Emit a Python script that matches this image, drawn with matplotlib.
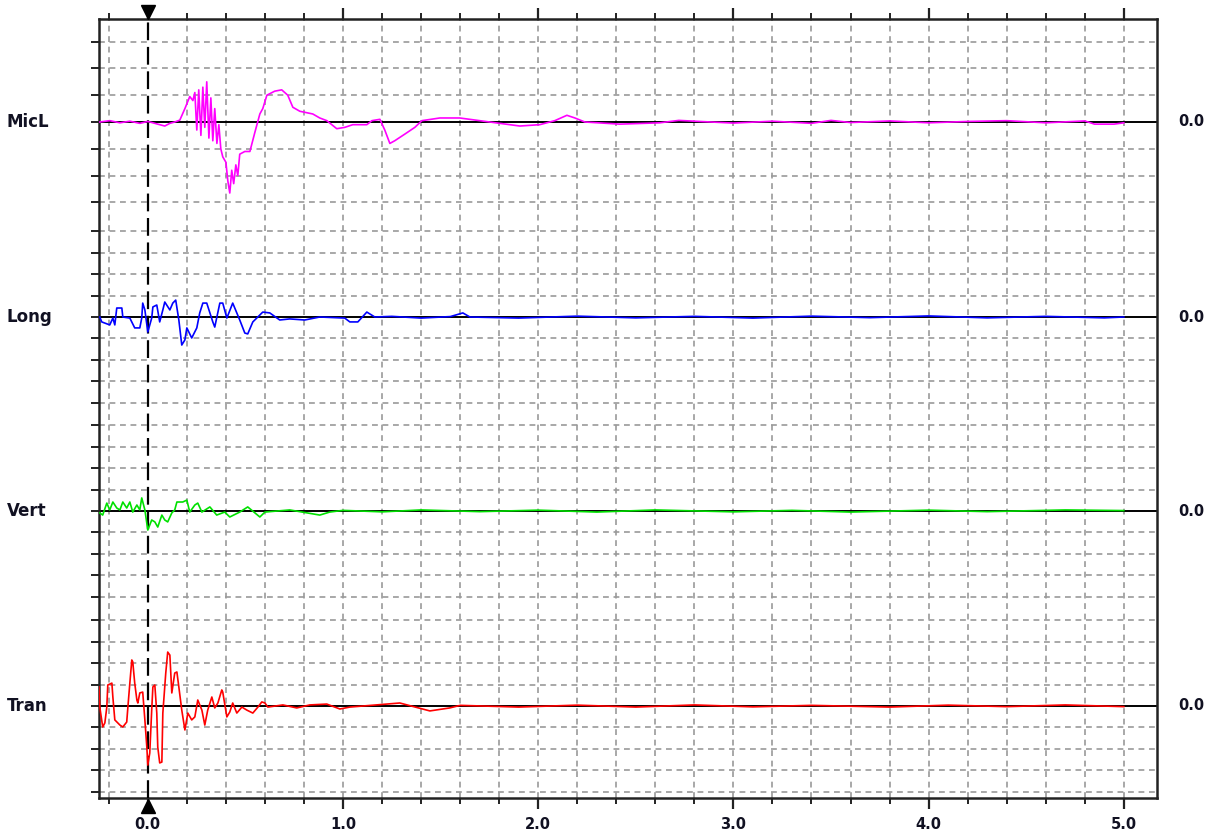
import numpy as np
import matplotlib.pyplot as plt

# channel names (left labels) and right-hand zero readouts
channels = ["MicL", "Long", "Vert", "Tran"]
zero_labels = ["0.0", "0.0", "0.0", "0.0"]
colors = ["#ff00ff", "#0000ff", "#00e000", "#ff0000"]

# time axis labels
time_ticks = [0.0, 1.0, 2.0, 3.0, 4.0, 5.0]

# signals: time (s) and amplitude in grid divisions of each channel
micl_t = [-0.246, -0.195, -0.143, -0.092, -0.041, 0.0, 0.036, 0.061, 0.087, 0.113,
          0.138, 0.164, 0.190, 0.215, 0.231, 0.241, 0.251, 0.261, 0.272, 0.282,
          0.292, 0.302, 0.313, 0.323, 0.333, 0.343, 0.354, 0.364, 0.374, 0.384,
          0.400, 0.410, 0.420, 0.430, 0.440, 0.451, 0.461, 0.471, 0.497, 0.523,
          0.548, 0.574, 0.589, 0.610, 0.650, 0.686, 0.717, 0.743, 0.779, 0.845,
          0.881, 0.917, 0.968, 1.009, 1.050, 1.122, 1.148, 1.189, 1.214, 1.240,
          1.265, 1.317, 1.368, 1.404, 1.496, 1.598, 1.700, 1.803, 1.906, 2.008,
          2.085, 2.147, 2.188, 2.239, 2.418, 2.623, 2.720, 2.828, 3.0, 3.2,
          3.4, 3.5, 3.6, 3.8, 4.0, 4.2, 4.4, 4.6, 4.8, 4.85, 4.95, 5.0]
micl_v = [0.0, 0.05, -0.03, 0.03, -0.05, 0.02, -0.05, -0.1, -0.15, -0.05,
          0.0, 0.07, 0.5, 0.95, 0.8, 1.1, -0.3, 1.2, -0.5, 1.3,
          -0.2, 1.5, -0.6, 0.9, -0.7, 0.5, -0.8, -0.1, -1.0, -1.3,
          -1.5, -2.2, -2.65, -1.8, -2.3, -1.6, -2.0, -1.2, -1.1, -1.1,
          -0.4, 0.3, 0.5, 1.0, 1.15, 1.2, 1.0, 0.55, 0.4, 0.3,
          0.15, 0.05, -0.25, -0.2, -0.1, -0.1, 0.05, 0.1, -0.3, -0.8,
          -0.7, -0.45, -0.2, 0.05, 0.15, 0.15, 0.05, -0.05, -0.15, -0.1,
          0.05, 0.25, 0.15, 0.0, -0.08, -0.03, 0.06, 0.02, -0.04, 0.03,
          -0.05, 0.06, -0.02, 0.04, -0.03, 0.02, 0.05, -0.03, 0.04, -0.08, -0.08, -0.03]

long_t = [-0.246, -0.236, -0.195, -0.179, -0.169, -0.159, -0.133, -0.128, -0.092, -0.067,
          -0.041, -0.031, -0.026, -0.015, 0.0, 0.020, 0.026, 0.046, 0.061, 0.077,
          0.087, 0.113, 0.128, 0.143, 0.159, 0.174, 0.190, 0.200, 0.225, 0.251,
          0.266, 0.282, 0.302, 0.333, 0.343, 0.369, 0.384, 0.405, 0.435, 0.471,
          0.497, 0.512, 0.538, 0.558, 0.589, 0.625, 0.676, 0.727, 0.804, 0.881,
          1.009, 1.035, 1.076, 1.122, 1.163, 1.25, 1.4, 1.55, 1.614, 1.65,
          1.9, 2.2, 2.5, 2.8, 3.1, 3.4, 3.7, 4.0, 4.3, 4.6, 4.9, 5.0]
long_v = [0.0, -0.23, -0.37, -0.05, -0.37, 0.42, 0.42, 0.0, -0.05, -0.51,
          -0.51, -0.05, 0.65, 0.33, -0.7, -0.05, 0.47, 0.56, -0.23, 0.33,
          0.7, 0.33, 0.65, 0.79, -0.14, -1.31, -1.07, -0.51, -0.98, -0.51,
          0.19, 0.65, 0.65, -0.23, -0.47, 0.65, 0.65, -0.05, 0.65, -0.14,
          -0.75, -0.79, -0.23, -0.05, 0.23, 0.19, -0.14, -0.09, -0.14, 0.0,
          -0.05, -0.23, -0.23, 0.23, 0.0, 0.03, -0.05, 0.02, 0.19, 0.0,
          -0.05, 0.04, -0.04, 0.03, -0.05, 0.04, -0.03, 0.05, -0.04, 0.03, -0.04, 0.0]

vert_t = [-0.246, -0.231, -0.210, -0.195, -0.179, -0.159, -0.143, -0.128, -0.108, -0.092,
          -0.077, -0.056, -0.041, -0.031, -0.015, 0.0, 0.020, 0.036, 0.051, 0.072,
          0.087, 0.102, 0.123, 0.138, 0.149, 0.179, 0.200, 0.215, 0.241, 0.256,
          0.277, 0.318, 0.353, 0.394, 0.420, 0.471, 0.512, 0.574, 0.600, 0.727,
          0.881, 0.932, 1.0, 1.2, 1.4, 1.7, 2.0, 2.3, 2.6, 3.0,
          3.3, 3.6, 4.0, 4.3, 4.7, 5.0]
vert_v = [-0.09, -0.19, 0.37, 0.05, 0.42, 0.14, 0.05, 0.42, 0.14, 0.42,
          -0.05, 0.28, 0.05, 0.61, 0.05, -0.89, -0.42, -0.51, -0.75, -0.19,
          -0.42, -0.51, -0.09, 0.05, 0.42, 0.42, 0.51, -0.05, 0.28, 0.37,
          -0.05, 0.19, -0.19, -0.05, -0.28, -0.05, 0.19, -0.28, -0.05, 0.05,
          -0.19, -0.05, 0.03, -0.04, 0.05, -0.03, 0.04, -0.05, 0.05, -0.04,
          0.03, -0.05, 0.04, -0.03, 0.05, 0.02]

tran_t = [-0.25, -0.246, -0.231, -0.220, -0.210, -0.205, -0.184, -0.179, -0.169, -0.143,
          -0.128, -0.108, -0.102, -0.092, -0.082, -0.077, -0.067, -0.056, -0.051, -0.041,
          -0.026, -0.015, -0.005, 0.0, 0.010, 0.020, 0.026, 0.036, 0.046, 0.051,
          0.061, 0.072, 0.077, 0.092, 0.102, 0.113, 0.123, 0.138, 0.149, 0.159,
          0.174, 0.190, 0.205, 0.225, 0.241, 0.256, 0.277, 0.292, 0.307, 0.328,
          0.343, 0.359, 0.379, 0.384, 0.405, 0.420, 0.435, 0.456, 0.482, 0.507,
          0.538, 0.564, 0.584, 0.600, 0.615, 0.692, 0.763, 0.830, 0.917, 0.984,
          1.035, 1.291, 1.445, 1.547, 1.6, 1.9, 2.2, 2.5, 2.8, 3.1,
          3.4, 3.8, 4.1, 4.4, 4.7, 5.0]
tran_v = [0.89, -0.05, -0.98, -0.79, -0.05, 0.98, 1.07, 0.42, -0.65, -0.89,
          -0.98, -0.75, -0.05, 1.07, 2.15, 2.06, 1.07, 0.28, 0.14, 0.61,
          0.65, -0.65, -1.92, -2.76, -2.2, -0.19, 0.89, 0.98, -0.33, -1.92,
          -2.66, -2.62, -0.33, 1.54, 2.52, 2.38, 0.61, 1.54, 1.59, 0.89,
          -0.19, -1.12, -0.33, -0.65, -0.51, 0.28, -0.19, -0.89, -0.19, 0.42,
          -0.09, 0.14, 0.75, 0.65, -0.51, -0.28, 0.14, -0.33, -0.05, -0.19,
          -0.33, -0.05, 0.19, 0.14, -0.05, 0.05, -0.09, 0.05, 0.09, -0.14,
          -0.05, 0.14, -0.23, -0.09, 0.03, -0.05, 0.04, -0.05, 0.05, -0.04,
          0.03, -0.05, 0.04, -0.03, 0.05, -0.03]

signals = [(micl_t, micl_v), (long_t, long_v), (vert_t, vert_v), (tran_t, tran_v)]

# layout: plot works in pixel rows; each channel has its own zero row and division size
zero_rows = [122, 317, 511, 706]
div_px = [26.8, 21.4, 21.4, 21.4]
n_div_up = [3, 4, 4, 4]
n_div_down = [3, 4, 4, 4]

fig = plt.figure(figsize=(12.11, 8.34), dpi=100)
ax = fig.add_axes([99 / 1211, 1 - 797.5 / 834, (1157 - 99) / 1211, (797.5 - 19) / 834])
ax.set_xlim(-0.25, 5.17)
ax.set_ylim(797.5, 19)

grid_kw = dict(color="#9a9a9a", linewidth=1.2, linestyle=(0, (3.5, 2.8)), zorder=1)

# vertical grid every 0.2 s
xgrid = np.round(np.arange(-0.2, 5.01, 0.2), 2)
for x in xgrid:
    if abs(x) > 1e-6:
        ax.axvline(x, **grid_kw)

# horizontal grid per channel
hrows = []
for z, d, nu, nd in zip(zero_rows, div_px, n_div_up, n_div_down):
    for k in range(1, nu + 1):
        hrows.append(z - k * d)
    for k in range(1, nd + 1):
        hrows.append(z + k * d)
for r in hrows:
    ax.axhline(r, **grid_kw)

# zero lines
for z in zero_rows:
    ax.axhline(z, color="black", linewidth=1.4, zorder=2)

# trigger line at t = 0
ax.axvline(0, color="black", linewidth=1.6, linestyle=(0, (8, 3)), zorder=3)
ax.plot(0, 12, marker="v", ms=10, color="black", clip_on=False, zorder=5)
ax.plot(0, 806, marker="^", ms=10, color="black", clip_on=False, zorder=5)

# signals
for (t, v), z, d, c in zip(signals, zero_rows, div_px, colors):
    rows = z - np.array(v) * d
    ax.plot(t, rows, color=c, linewidth=1.2, zorder=4)

# channel labels
for name, lab, z in zip(channels, zero_labels, zero_rows):
    fig.text(7 / 1211, 1 - z / 834, name, fontsize=12, fontweight="bold",
             ha="left", va="center", color="#111122")
    fig.text(1191 / 1211, 1 - z / 834, lab, fontsize=10.5, fontweight="bold",
             ha="center", va="center", color="#111122")

# ticks
ax.set_yticks(sorted(hrows + zero_rows))
ax.tick_params(axis="y", which="major", left=True, right=False, direction="out",
               length=6, width=1.4, labelleft=False, color="#222222")
ax.set_xticks(time_ticks)
ax.set_xticks([x for x in xgrid if abs(x - round(x)) > 1e-6], minor=True)
ax.set_xticklabels([f"{t:.1f}" for t in time_ticks], fontsize=10.5, fontweight="bold",
                   color="#111122")
ax.tick_params(axis="x", which="major", top=True, bottom=True, direction="out",
               length=8, width=1.6, pad=6, color="#222222")
ax.tick_params(axis="x", which="minor", top=True, bottom=True, direction="out",
               length=4, width=1.4, color="#222222")

for s in ax.spines.values():
    s.set_color("#222222")
    s.set_linewidth(1.8)

fig.savefig("out.png", dpi=100)
